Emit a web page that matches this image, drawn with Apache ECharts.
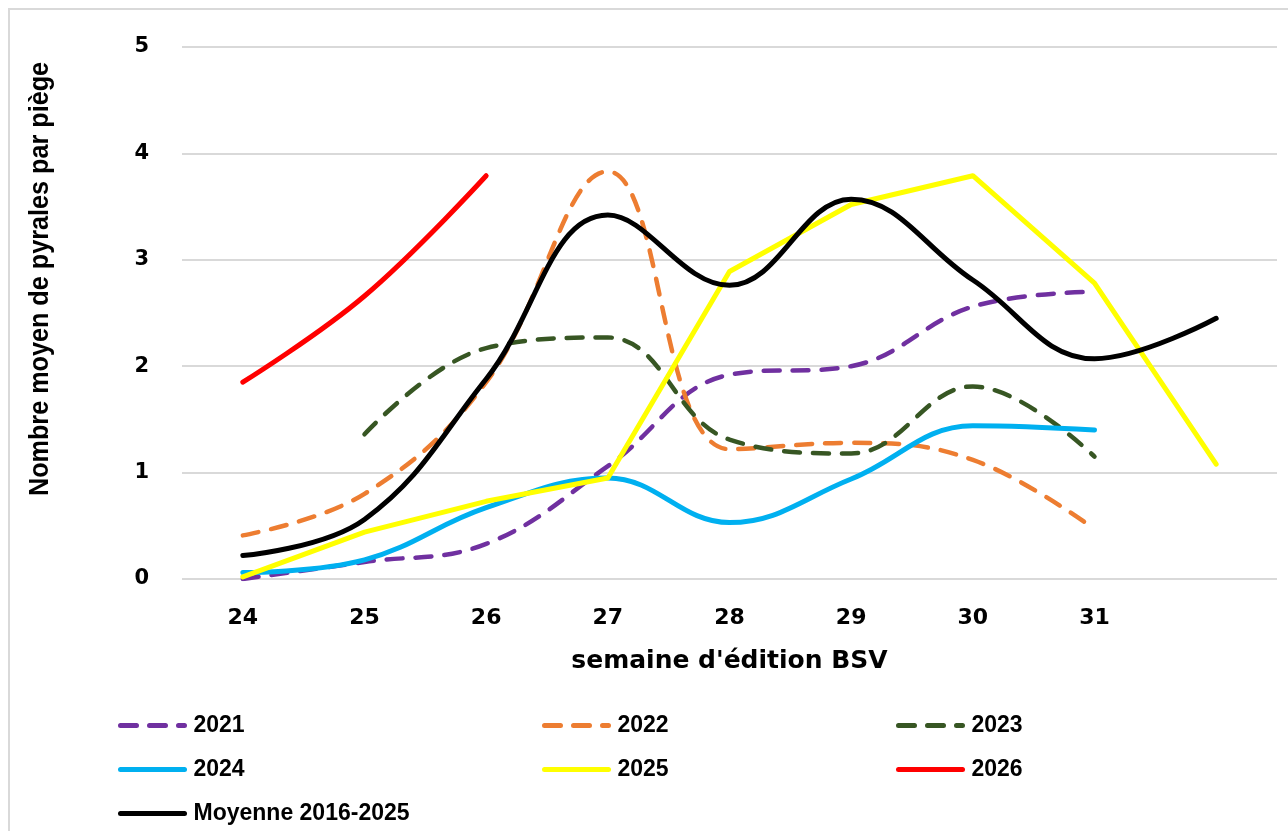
<!DOCTYPE html>
<html>
<head>
<meta charset="utf-8">
<script src="https://cdn.jsdelivr.net/npm/echarts@6/dist/echarts.min.js"></script>
<style>
html,body{margin:0;padding:0;background:#fff;}
#chart{width:1288px;height:831px;}
</style>
</head>
<body>
<div id="chart"></div>
<script>
// Data
const categories = ['24', '25', '26', '27', '28', '29', '30', '31', ''];
const s2021 = [0.00, 0.16, 0.33, 1.06, 1.92, 2.00, 2.56, 2.70, null];
const s2022 = [0.41, 0.80, 1.85, 3.83, 1.22, 1.28, 1.12, 0.47, null];
const s2023 = [null, 1.36, 2.17, 2.27, 1.31, 1.18, 1.81, 1.15, null];
const s2024 = [0.06, 0.18, 0.67, 0.95, 0.53, 0.94, 1.44, 1.40, null];
const s2025 = [0.02, 0.44, 0.73, 0.95, 2.89, 3.52, 3.79, 2.78, 1.08];
const s2026 = [1.85, 2.66, 3.79, null, null, null, null, null, null];
const sMoy  = [0.22, 0.56, 1.88, 3.42, 2.76, 3.57, 2.81, 2.07, 2.45];
const yTicks = [0, 1, 2, 3, 4, 5];
const yTitle = 'Nombre moyen de pyrales par piège';
const xTitle = "semaine d'édition BSV";

const chart = echarts.init(document.getElementById('chart'));
const dash = [16, 13];
function ser(name, data, color, dashed, smooth) {
  return {
    name: name, type: 'line', data: data, smooth: smooth,
    symbol: 'none', showSymbol: false, connectNulls: false,
    lineStyle: { color: color, width: dashed ? 4.5 : 5, type: dashed ? dash : 'solid', cap: 'round', join: 'round' },
    itemStyle: { color: color },
    z: 2
  };
}
const legendText = { fontFamily: '"Liberation Sans", sans-serif', fontWeight: 'bold', fontSize: 23, color: '#000', padding: [0, 0, 0, 4] };
const legendBase = {
  orient: 'vertical', itemWidth: 64, itemHeight: 14, itemGap: 21, height: 160,
  textStyle: legendText, itemStyle: { opacity: 0 }, lineStyle: { width: 5, cap: 'round' }
};
chart.setOption({
  animation: false,
  graphic: [
    { type: 'rect', shape: { x: 9, y: 9, width: 1300, height: 850 }, style: { fill: 'none', stroke: '#d9d9d9', lineWidth: 2 }, silent: true },
    { type: 'text', x: 40, y: 279, rotation: Math.PI / 2, scaleX: 0.9, silent: true,
      style: { text: yTitle, fontFamily: '"Liberation Sans", sans-serif', fontWeight: 'bold', fontSize: 28, fill: '#000', align: 'center', verticalAlign: 'middle' } }
  ],
  grid: { left: 182, right: 11, top: 47, bottom: 252, containLabel: false },
  xAxis: {
    type: 'category', data: categories, boundaryGap: true,
    axisLine: { show: false }, axisTick: { show: false },
    axisLabel: { fontFamily: '"DejaVu Sans", sans-serif', fontWeight: 'bold', fontSize: 22, color: '#000', margin: 28 },
    name: xTitle, nameLocation: 'middle', nameGap: 70,
    nameTextStyle: { fontFamily: '"DejaVu Sans", sans-serif', fontWeight: 'bold', fontSize: 25, color: '#000' }
  },
  yAxis: {
    type: 'value', min: 0, max: 5, interval: 1,
    axisLine: { show: false }, axisTick: { show: false },
    splitLine: { lineStyle: { color: '#d9d9d9', width: 2 } },
    axisLabel: { fontFamily: '"DejaVu Sans", sans-serif', fontWeight: 'bold', fontSize: 21, color: '#000', margin: 33,
      formatter: function (v) { return yTicks.indexOf(v) >= 0 ? String(v) : ''; } }
  },
  legend: [
    Object.assign({}, legendBase, { left: 113, top: 709, data: ['2021', '2024', 'Moyenne 2016-2025'] }),
    Object.assign({}, legendBase, { left: 537, top: 709, data: ['2022', '2025'] }),
    Object.assign({}, legendBase, { left: 891, top: 709, data: ['2023', '2026'] })
  ],
  series: [
    ser('2021', s2021, '#7030a0', true, 0.4),
    ser('2022', s2022, '#ed7d31', true, 0.4),
    ser('2023', s2023, '#375623', true, 0.4),
    ser('2024', s2024, '#00b0f0', false, 0.4),
    ser('2025', s2025, '#ffff00', false, false),
    ser('2026', s2026, '#ff0000', false, 0.4),
    ser('Moyenne 2016-2025', sMoy, '#000000', false, 0.4)
  ]
});
</script>
</body>
</html>
